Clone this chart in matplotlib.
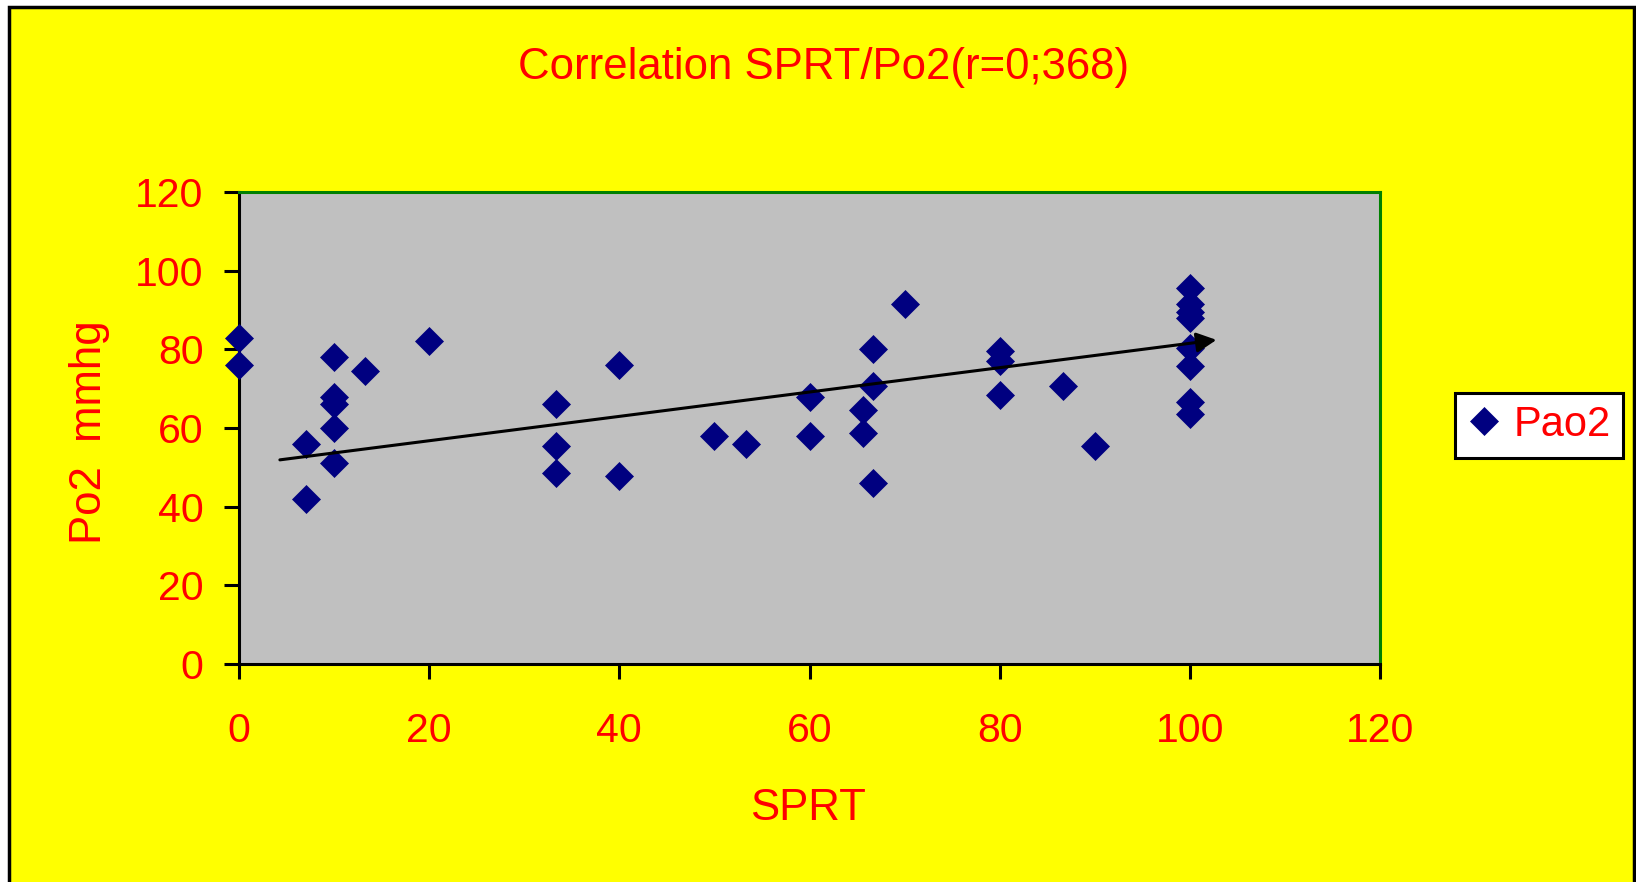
import matplotlib
matplotlib.use("Agg")
import matplotlib.pyplot as plt
from matplotlib.patches import Rectangle

plt.rcParams['font.family'] = ['Liberation Sans', 'DejaVu Sans']

# data
sprt = [0, 0, 7, 7, 10, 10, 10, 10, 10, 13.3, 20, 33.3, 33.3, 33.3, 40, 40,
        50, 53.3, 60, 60, 65.6, 65.6, 66.7, 66.7, 66.7, 70, 80, 80, 80, 86.7, 90,
        100, 100, 100, 100, 100, 100, 100, 100]
po2 = [83, 76, 56, 42, 78, 68, 66, 60, 51, 74.5, 82, 66, 55.5, 48.5, 76, 47.7,
       58, 56, 68, 58, 64.7, 58.7, 80.2, 70.7, 46, 91.5, 79.5, 77, 68.5, 70.7, 55.5,
       95.5, 91.5, 89.5, 88, 80.3, 75.7, 66.5, 63.5]
arrow_x = [4.3, 102.8]
arrow_y = [51.9, 82.4]
xticks = [0, 20, 40, 60, 80, 100, 120]
yticks = [0, 20, 40, 60, 80, 100, 120]

W, H = 1636, 882
fig = plt.figure(figsize=(W / 100, H / 100), dpi=100, facecolor='white')

# yellow chart area with black frame
fig.patches.append(Rectangle((9 / W, -0.05), (1634 - 9) / W, 1 - 7 / H + 0.05,
                             transform=fig.transFigure, facecolor='#FFFF00',
                             edgecolor='black', linewidth=2.5, zorder=-10))

ax = fig.add_axes([239 / W, 1 - 664 / H, (1380 - 239) / W, (664 - 192) / H])
ax.set_zorder(1)
ax.set_facecolor('#C0C0C0')

ax.plot(sprt, po2, linestyle='none', marker='D', markersize=14.5,
        color='#000080', markeredgewidth=0.5, label='Pao2', clip_on=False, zorder=3)

ax.annotate('', xy=(arrow_x[1], arrow_y[1]), xytext=(arrow_x[0], arrow_y[0]),
            arrowprops=dict(arrowstyle='-|>', mutation_scale=30, lw=2.2,
                            color='black', shrinkA=0, shrinkB=0), zorder=4)

ax.set_xlim(0, 120)
ax.set_ylim(0, 120)
ax.set_xticks(xticks)
ax.set_yticks(yticks)

for s in ['left', 'bottom']:
    ax.spines[s].set_color('black')
    ax.spines[s].set_linewidth(2.2)
for s in ['top', 'right']:
    ax.spines[s].set_color('#008000')
    ax.spines[s].set_linewidth(2.2)

ax.tick_params(axis='both', direction='out', length=10.5, width=2.2,
               labelcolor='red', labelsize=29.5)
ax.tick_params(axis='y', pad=15)
ax.tick_params(axis='x', pad=24)

fig.text(824 / W, 1 - 67 / H, 'Correlation SPRT/Po2(r=0;368)', color='red',
         fontsize=31.5, ha='center', va='center')
fig.text(808 / W, 1 - 808 / H, 'SPRT', color='red', fontsize=31.5,
         ha='center', va='center')
fig.text(89 / W, 1 - 432 / H, 'Po2  mmhg', color='red', fontsize=31.5,
         ha='center', va='center', rotation=90)

leg = ax.legend(loc='center left', bbox_to_anchor=(1455 / W, 1 - 425 / H),
                bbox_transform=fig.transFigure, fancybox=False, framealpha=1,
                facecolor='white', edgecolor='black', fontsize=30,
                handlelength=0.8, handletextpad=0.3, borderpad=0.3,
                borderaxespad=0)
leg.get_frame().set_linewidth(2.2)
for t in leg.get_texts():
    t.set_color('red')

fig.savefig('out.png', dpi=100, facecolor=fig.get_facecolor())
